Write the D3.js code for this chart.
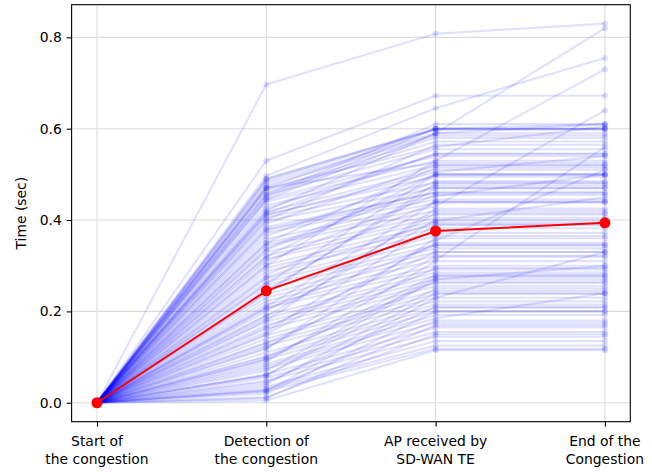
<!DOCTYPE html>
<html>
<head>
<meta charset="utf-8">
<script src="https://cdn.jsdelivr.net/npm/d3@7"></script>
<style>
  body { margin: 0; background: #fff; }
  svg { font-family: "DejaVu Sans", sans-serif; }
</style>
</head>
<body>
<svg id="chart" width="652" height="472"></svg>
<script>
// stages on the x axis
const stages = ["Start of\nthe congestion", "Detection of\nthe congestion", "AP received by\nSD-WAN TE", "End of the\nCongestion"]
const yTicks = [0.0, 0.2, 0.4, 0.6, 0.8]

// each run: time at detection, at AP received, at end (start is always 0)
const detection = [0.697,0.530,0.497,0.490,0.485,0.480,0.475,0.470,0.465,0.460,0.455,0.450,0.445,0.440,0.432,0.425,0.418,0.412,0.410,0.405,
  0.398,0.392,0.385,0.378,0.372,0.365,0.358,0.350,0.345,0.338,0.330,0.322,0.315,0.310,0.302,0.295,0.288,0.280,0.272,0.265,
  0.258,0.250,0.245,0.238,0.230,0.222,0.215,0.208,0.200,0.192,0.185,0.178,0.170,0.162,0.155,0.148,0.140,0.132,0.125,0.118,
  0.110,0.102,0.095,0.090,0.085,0.080,0.075,0.070,0.062,0.055,0.048,0.040,0.035,0.030,0.025,0.020,0.012,0.005,0.470,0.420,
  0.300,0.260,0.210,0.180,0.150,0.120,0.100,0.060,0.028,0.010,0.400,0.350,0.240,0.190,0.130,0.455,0.335,0.275,0.205,0.045,
  0.490,0.415,0.320,0.095,0.025,0.470,0.380,0.165,0.060,0.445]
const apReceived = [0.808,0.672,0.645,0.600,0.598,0.590,0.585,0.560,0.580,0.572,0.555,0.600,0.540,0.530,0.520,0.545,0.510,0.495,0.505,0.482,
  0.470,0.520,0.460,0.452,0.445,0.500,0.438,0.430,0.420,0.485,0.412,0.405,0.398,0.455,0.390,0.382,0.372,0.440,0.365,0.355,
  0.345,0.338,0.470,0.330,0.322,0.312,0.300,0.292,0.415,0.285,0.278,0.270,0.262,0.255,0.390,0.245,0.238,0.230,0.222,0.360,
  0.215,0.208,0.200,0.310,0.192,0.185,0.175,0.275,0.165,0.155,0.145,0.240,0.135,0.125,0.118,0.200,0.150,0.115,0.600,0.590,
  0.530,0.500,0.440,0.425,0.350,0.320,0.265,0.250,0.180,0.170,0.565,0.515,0.480,0.400,0.295,0.610,0.475,0.395,0.345,0.210,
  0.600,0.545,0.500,0.280,0.230,0.525,0.460,0.330,0.270,0.590]
const endTimes = [0.830,0.672,0.755,0.610,0.598,0.820,0.585,0.605,0.580,0.572,0.555,0.600,0.540,0.730,0.520,0.545,0.510,0.495,0.540,0.482,
  0.470,0.520,0.460,0.500,0.445,0.500,0.438,0.640,0.420,0.485,0.412,0.405,0.450,0.455,0.390,0.382,0.372,0.440,0.365,0.510,
  0.345,0.338,0.470,0.330,0.322,0.560,0.300,0.292,0.415,0.285,0.278,0.300,0.262,0.255,0.390,0.245,0.238,0.330,0.222,0.360,
  0.215,0.208,0.200,0.310,0.192,0.240,0.175,0.275,0.165,0.155,0.145,0.240,0.135,0.125,0.118,0.200,0.150,0.115,0.600,0.610,
  0.530,0.500,0.440,0.425,0.350,0.320,0.265,0.250,0.180,0.170,0.565,0.515,0.480,0.400,0.295,0.610,0.475,0.395,0.345,0.210,
  0.600,0.545,0.500,0.280,0.230,0.525,0.460,0.330,0.270,0.590]

// average over runs (red line)
const meanTimes = [0.0, 0.245, 0.376, 0.394]

const svg = d3.select("#chart")
const padL = 71.6, padR = 630.3, padT = 4.7, padB = 421.7

const x = d3.scaleLinear().domain([-0.15, 3.15]).range([padL, padR])
const y = d3.scaleLinear().domain([-0.0415, 0.8715]).range([padB, padT])

// grid
const grid = svg.append("g")
grid.selectAll(".gx").data(stages).enter().append("line")
  .attr("x1", (d, i) => x(i)).attr("x2", (d, i) => x(i))
  .attr("y1", padT).attr("y2", padB)
  .attr("stroke", "#dcdcdc").attr("stroke-width", 1.1)
grid.selectAll(".gy").data(yTicks).enter().append("line")
  .attr("x1", padL).attr("x2", padR)
  .attr("y1", d => y(d)).attr("y2", d => y(d))
  .attr("stroke", "#dcdcdc").attr("stroke-width", 1.1)

const runs = detection.map((d, i) => [0, d, apReceived[i], endTimes[i]])
const line = d3.line().x((d, i) => x(i)).y(d => y(d))

const plot = svg.append("g")
plot.selectAll(".run").data(runs).enter().append("path")
  .attr("d", line)
  .attr("fill", "none")
  .attr("stroke", "blue")
  .attr("stroke-opacity", 0.12)
  .attr("stroke-width", 2.1)

runs.forEach(function(r) {
  plot.selectAll(null).data(r).enter().append("circle")
    .attr("cx", (d, i) => x(i)).attr("cy", d => y(d))
    .attr("r", 3)
    .attr("fill", "blue").attr("fill-opacity", 0.12)
})

plot.append("path").datum(meanTimes)
  .attr("d", line)
  .attr("fill", "none")
  .attr("stroke", "red")
  .attr("stroke-width", 2)
plot.selectAll(".mean").data(meanTimes).enter().append("circle")
  .attr("cx", (d, i) => x(i)).attr("cy", d => y(d))
  .attr("r", 5.5).attr("fill", "red")

// axes
const yAxis = d3.axisLeft(y).tickValues(yTicks).tickFormat(d3.format(".1f")).tickSize(4.9).tickPadding(4.9).tickSizeOuter(0)
const gy = svg.append("g").attr("transform", "translate(" + padL + ",0)").call(yAxis)
gy.select(".domain").remove()
gy.selectAll("text").attr("font-size", 13.9).attr("font-family", "DejaVu Sans").attr("fill", "#000")
gy.selectAll("line").attr("stroke", "#000").attr("stroke-width", 1.1)

const xAxis = d3.axisBottom(x).tickValues(d3.range(stages.length)).tickFormat("").tickSize(4.9).tickSizeOuter(0)
const gx = svg.append("g").attr("transform", "translate(0," + padB + ")").call(xAxis)
gx.select(".domain").remove()
gx.selectAll("line").attr("stroke", "#000").attr("stroke-width", 1.1)

const labels = svg.append("g").attr("font-size", 13.9).attr("text-anchor", "middle").attr("fill", "#000")
stages.forEach(function(s, i) {
  const t = labels.append("text").attr("x", x(i)).attr("y", padB + 24)
  s.split("\n").forEach(function(part, j) {
    t.append("tspan").attr("x", x(i)).attr("dy", j == 0 ? 0 : 18).text(part)
  })
})

svg.append("text")
  .attr("transform", "translate(26," + ((padT + padB) / 2) + ") rotate(-90)")
  .attr("text-anchor", "middle")
  .attr("font-size", 13.9)
  .text("Time (sec)")

// frame
svg.append("rect").attr("x", padL).attr("y", padT)
  .attr("width", padR - padL).attr("height", padB - padT)
  .attr("fill", "none").attr("stroke", "#000").attr("stroke-width", 1.1)
</script>
</body>
</html>
